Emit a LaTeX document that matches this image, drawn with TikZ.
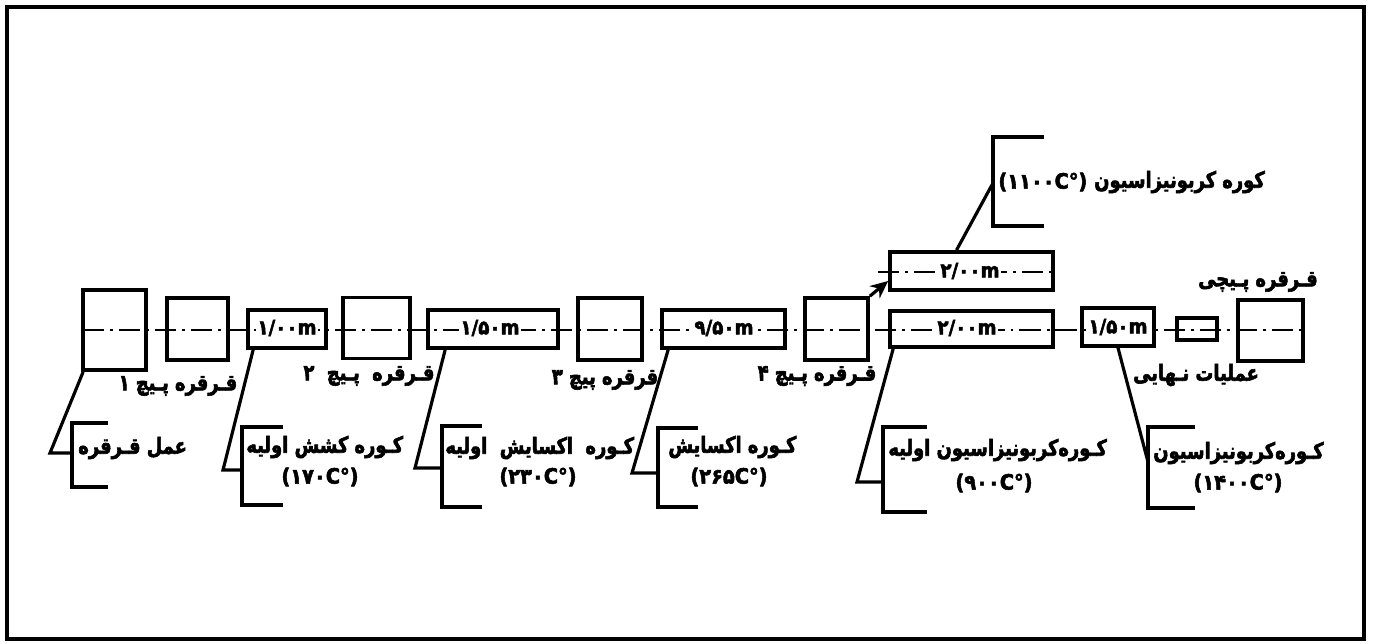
\documentclass[tikz,border=0pt]{standalone}
\usepackage{fontspec}
\usetikzlibrary{calc,arrows.meta}
\TeXXeTstate=1
\newfontfamily\fa[Script=Arabic,FakeStretch=0.8,FakeBold=2.5]{DejaVu Sans}
\newfontfamily\fanum[Script=Arabic,FakeStretch=0.92,FakeBold=2.5]{DejaVu Sans}
\begin{document}
\begin{tikzpicture}[x=0.02cm,y=-0.02cm,
  box/.style 2 args={draw, line width=2.1pt, minimum width=#1*0.02cm, minimum height=#2*0.02cm, inner sep=0pt},
  axis/.style={line width=1.6pt, dash pattern=on 12pt off 3.4pt on 1.7pt off 3.4pt},
  lead/.style={line width=1.8pt},
  brk/.style={line width=2.1pt},
  lbl/.style={font=\fa\bfseries\fontsize{12.7}{14}\selectfont, inner sep=0pt},
  tmp/.style={font=\fanum\bfseries\fontsize{12}{14}\selectfont, inner sep=0pt},
  boxtxt/.style={font=\fanum\bfseries\fontsize{11.3}{12}\selectfont, fill=white, inner sep=1pt},
  arr/.style={line width=1.8pt, -{Stealth[length=10pt,width=9pt]}}]
\useasboundingbox (0,0) rectangle (1373,644);
\draw[line width=2.2pt] (7,7) rectangle (1364,639);
% centre lines
\draw[axis] (83,330) -- (1303,330);
\draw[axis] (878,272) -- (1058,272);
% boxes
\node[box={63}{80}] (b1) at (114.5,330) {};
\node[box={61}{62}] (b2) at (197.5,329) {};
\node[box={78}{38}] (b3) at (287,329) {};
\node[box={67}{61}] (b4) at (376.5,328) {};
\node[box={130}{38}] (b5) at (493,329) {};
\node[box={64}{62}] (b6) at (610,329) {};
\node[box={123}{38}] (b7) at (723.5,329) {};
\node[box={63}{62}] (b8) at (836.5,329) {};
\node[box={163}{36}] (b9) at (971.5,329) {};
\node[box={72}{38}] (b10) at (1118,327) {};
\node[box={40}{22}] (b11) at (1197,329) {};
\node[box={65}{61}] (b12) at (1270.5,330.5) {};
\node[box={163}{38}] (bu) at (971.5,271) {};
% box texts
\node[boxtxt] (n3) at (287,328) {۱/۰۰m};
\node[boxtxt] (n5) at (490,328) {۱/۵۰m};
\node[boxtxt] (n7) at (724,328) {۹/۵۰m};
\node[boxtxt] (n9) at (967,328) {۲/۰۰m};
\node[boxtxt] (n10) at (1118,327) {۱/۵۰m};
\node[boxtxt] (nu) at (970,271) {۲/۰۰m};
% arrow to upper oven
\draw[arr] (b8.north east) -- ($(bu.south west)!0.26!(bu.north west)$);
% reel labels
\node[lbl] (t1) at (178,386) {\beginR قـرقره پـیچ ۱\endR};
\node[lbl] (t2) at (369,376) {\beginR قـرقره \ پـیچ \ ۲\endR};
\node[lbl] (t3) at (605,380) {\beginR قرقره پیچ ۳\endR};
\node[lbl] (t4) at (817,376) {\beginR قـرقره پـیچ ۴\endR};
\node[lbl] (t12) at (1196,375) {\beginR عملیات نـهایی\endR};
\node[lbl] (t13) at (1258,282) {\beginR قـرقره پـیچی\endR};
% brackets and leaders
\coordinate (k1) at (72,453);
\draw[brk] (108,423) -| (72,487) -- (108,487);
\draw[lead] ([xshift=0.04cm]b1.south west) -- (50,453) -- (k1);
\node[lbl,anchor=west] (t5) at (78,448) {\beginR عمل قـرقره\endR};

\coordinate (k2) at (242,470);
\draw[brk] (283,427) -| (242,505) -- (283,505);
\draw[lead] ([xshift=0.14cm]b3.south west) -- (223,470) -- (k2);
\node[lbl,anchor=west] (t6) at (246,447) {\beginR کـوره کشش اولیه\endR};
\node[tmp] (t6b) at (320,477) {(۱۷۰C°)};

\coordinate (k3) at (442,468);
\draw[brk] (482,426) -| (442,507) -- (482,507);
\draw[lead] ([xshift=0.38cm]b5.south west) -- (415,468) -- (k3);
\node[lbl,anchor=west] (t7) at (445,448) {\beginR کـوره \ اکسایش \ اولیه\endR};
\node[tmp] (t7b) at (538,477) {(۲۳۰C°)};

\coordinate (k4) at (658,473);
\draw[brk] (698,428) -| (658,507) -- (698,507);
\draw[lead] ([xshift=0.16cm]b7.south west) -- (632,473) -- (k4);
\node[lbl,anchor=west] (t8) at (668,447) {\beginR کـوره اکسایش\endR};
\node[tmp] (t8b) at (729,477) {(۲۶۵C°)};

\coordinate (k5) at (883,482);
\draw[brk] (927,427) -| (883,512) -- (927,512);
\draw[lead] ([xshift=0.1cm]b9.south west) -- (857,482) -- (k5);
\node[lbl,anchor=west] (t9) at (888,450) {\beginR کـوره‌کربونیزاسیون اولیه\endR};
\node[tmp] (t9b) at (994,483) {(۹۰۰C°)};

\coordinate (k6) at (1148,462);
\draw[brk] (1195,427) -| (1148,508) -- (1195,508);
\draw[lead] (b10.south) -- (k6);
\node[lbl,anchor=west] (t10) at (1153,453) {\beginR کـوره‌کربونیزاسیون\endR};
\node[tmp] (t10b) at (1238,483) {(۱۴۰۰C°)};

\coordinate (k7) at (993,183);
\draw[brk] (1044,137) -| (993,226) -- (1044,226);
\draw[lead] ($(bu.north west)!0.41!(bu.north east)$) -- (k7);
\node[tmp,anchor=west] (t11a) at (998,182) {(۱۱۰۰C°)};
\node[lbl,anchor=west] (t11) at (t11a.east) {\ \beginR کوره کربونیزاسیون\endR};
\end{tikzpicture}
\end{document}
